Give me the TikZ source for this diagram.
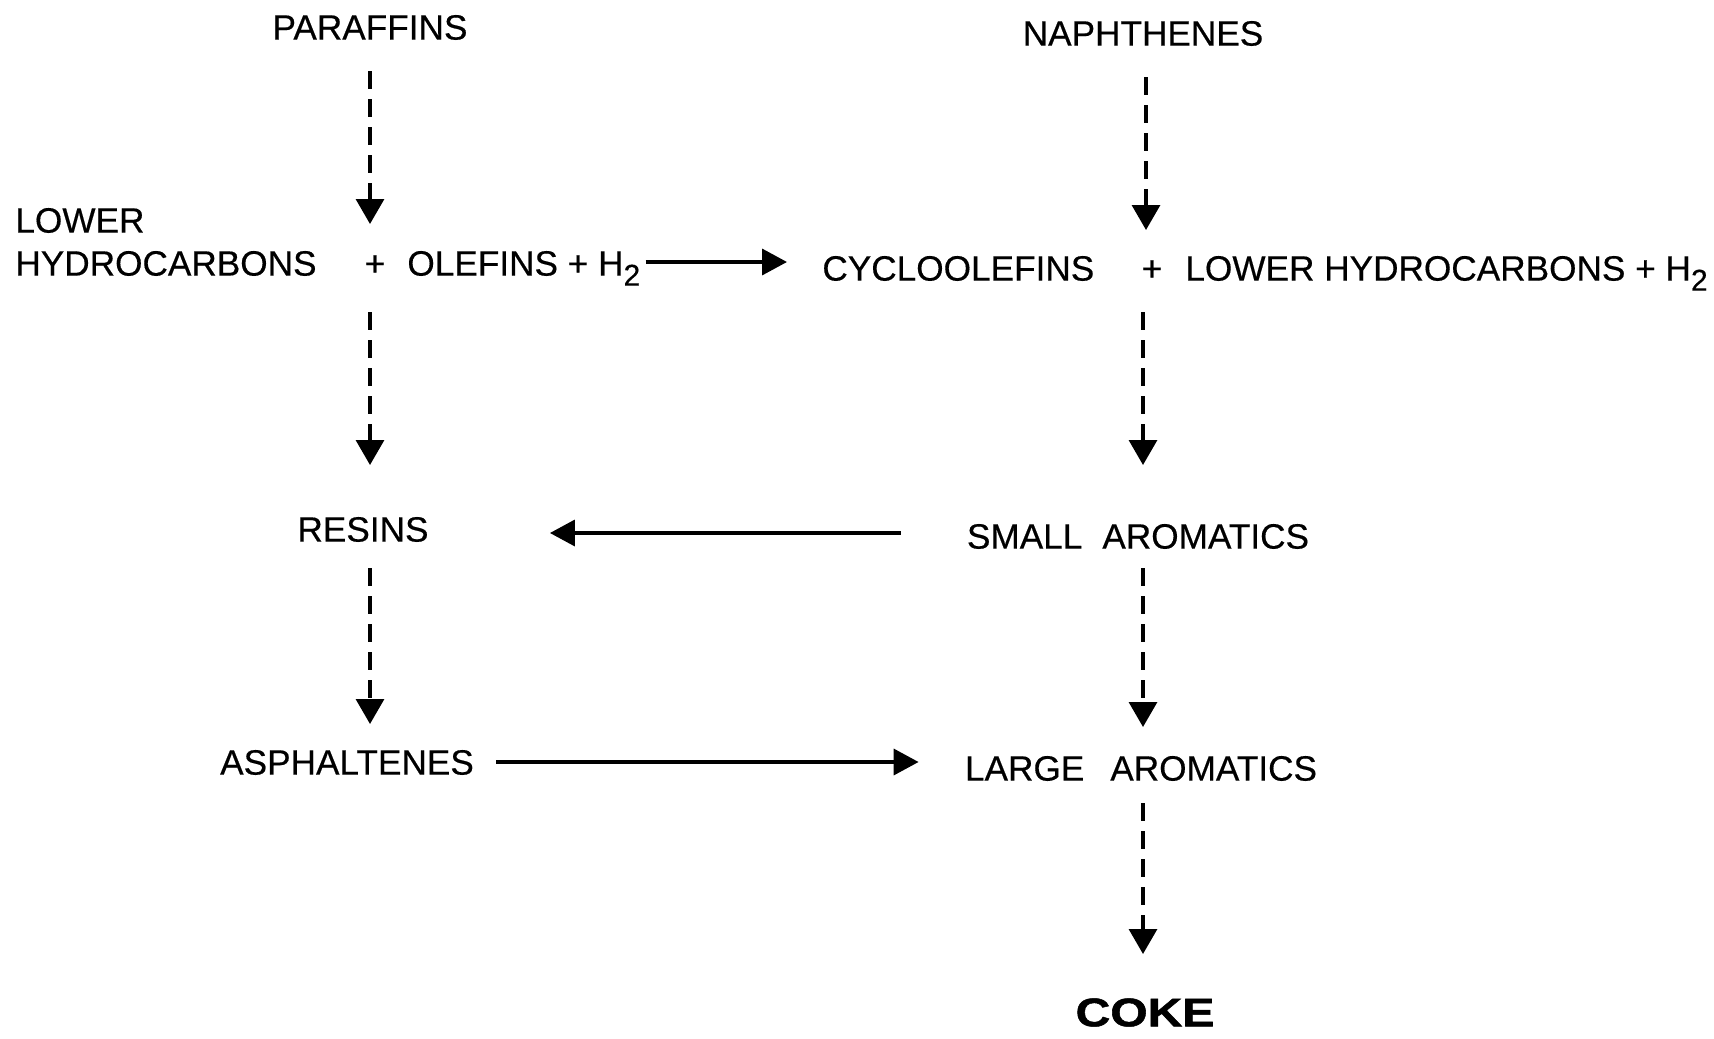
\documentclass[tikz,border=0pt]{standalone}
\usepackage{fontspec}
\setmainfont{Liberation Sans}[FakeBold=0.4]
\newfontfamily\cokefont{Liberation Sans}[FakeBold=1.2]
\usetikzlibrary{arrows.meta,calc}
\newcommand{\subtwo}{\raisebox{-5pt}{\fontsize{15}{15}\selectfont 2}}
\begin{document}
\begin{tikzpicture}[x=0.5pt,y=-0.5pt,
  lbl/.style={inner sep=0pt, text height=12.6pt, text depth=0pt, font=\fontsize{17.6}{21}\selectfont},
  darr/.style={line width=1.6pt, dash pattern=on 9pt off 5pt, -{Triangle[length=12.5pt,width=14pt]}},
  sarr/.style={line width=1.8pt, -{Triangle[length=12.5pt,width=13pt]}}]
\useasboundingbox (0,0) rectangle (1714,1039);
% nodes
\node[lbl] (par) at (370,27) {PARAFFINS};
\node[lbl] (nap) at (1143,33) {NAPHTHENES};
\node[lbl, anchor=west] (lowA) at (15,220) {LOWER};
\node[lbl, anchor=west] (lowB) at (15,263) {HYDROCARBONS};
\node[lbl] (plusL) at (375,263) {+};
\node[lbl, anchor=west] (olef) at (407,263) {OLEFINS + H\subtwo};
\node[lbl, anchor=west] (cyc) at (822,268) {CYCLOOLEFINS};
\node[lbl] (plusR) at (1152,268) {+};
\node[lbl, anchor=west] (lowR) at (1185,268) {LOWER HYDROCARBONS + H\subtwo};
\node[lbl] (resins) at (363,529) {RESINS};
\node[lbl] (small) at (1138,536) {SMALL\hspace{10pt}AROMATICS};
\node[lbl] (asph) at (347,762) {ASPHALTENES};
\node[lbl] (large) at (1141,768) {LARGE\hspace{13pt}AROMATICS};
\node[inner sep=0pt, text height=14.3pt, text depth=0pt, font=\fontsize{20}{24}\cokefont\bfseries] (coke) at (1145,1012) {\scalebox{1.2}[1]{COKE}};
% left column
\draw[darr] ($(par)+(0,44)$) -- ($(par |- plusL)+(0,-39)$);
\draw[darr] ($(par |- plusL)+(0,49)$) -- ($(par |- resins)+(0,-64)$);
\draw[darr] ($(par |- resins)+(0,39)$) -- ($(par |- asph)+(0,-38)$);
% right column
\draw[darr] ($(nap)+(3,44)$) -- ($(nap |- plusR)+(3,-38)$);
\draw[darr] ($(nap |- plusR)+(0,44)$) -- ($(nap |- small)+(0,-71)$);
\draw[darr] ($(nap |- small)+(0,32)$) -- ($(nap |- large)+(0,-41)$);
\draw[darr] ($(nap |- large)+(0,35)$) -- ($(nap |- coke)+(0,-58)$);
% horizontal
\draw[sarr] ($(olef.east)+(5,-1)$) -- ($(olef.east -| cyc.west)+(-35,-1)$);
\draw[sarr] ($(small.west)+(-66,-3)$) -- ($(resins.east |- small.west)+(121,-3)$);
\draw[sarr] ($(asph.east)+(22,0)$) -- ($(asph.east -| large.west)+(-46,0)$);
\end{tikzpicture}
\end{document}
